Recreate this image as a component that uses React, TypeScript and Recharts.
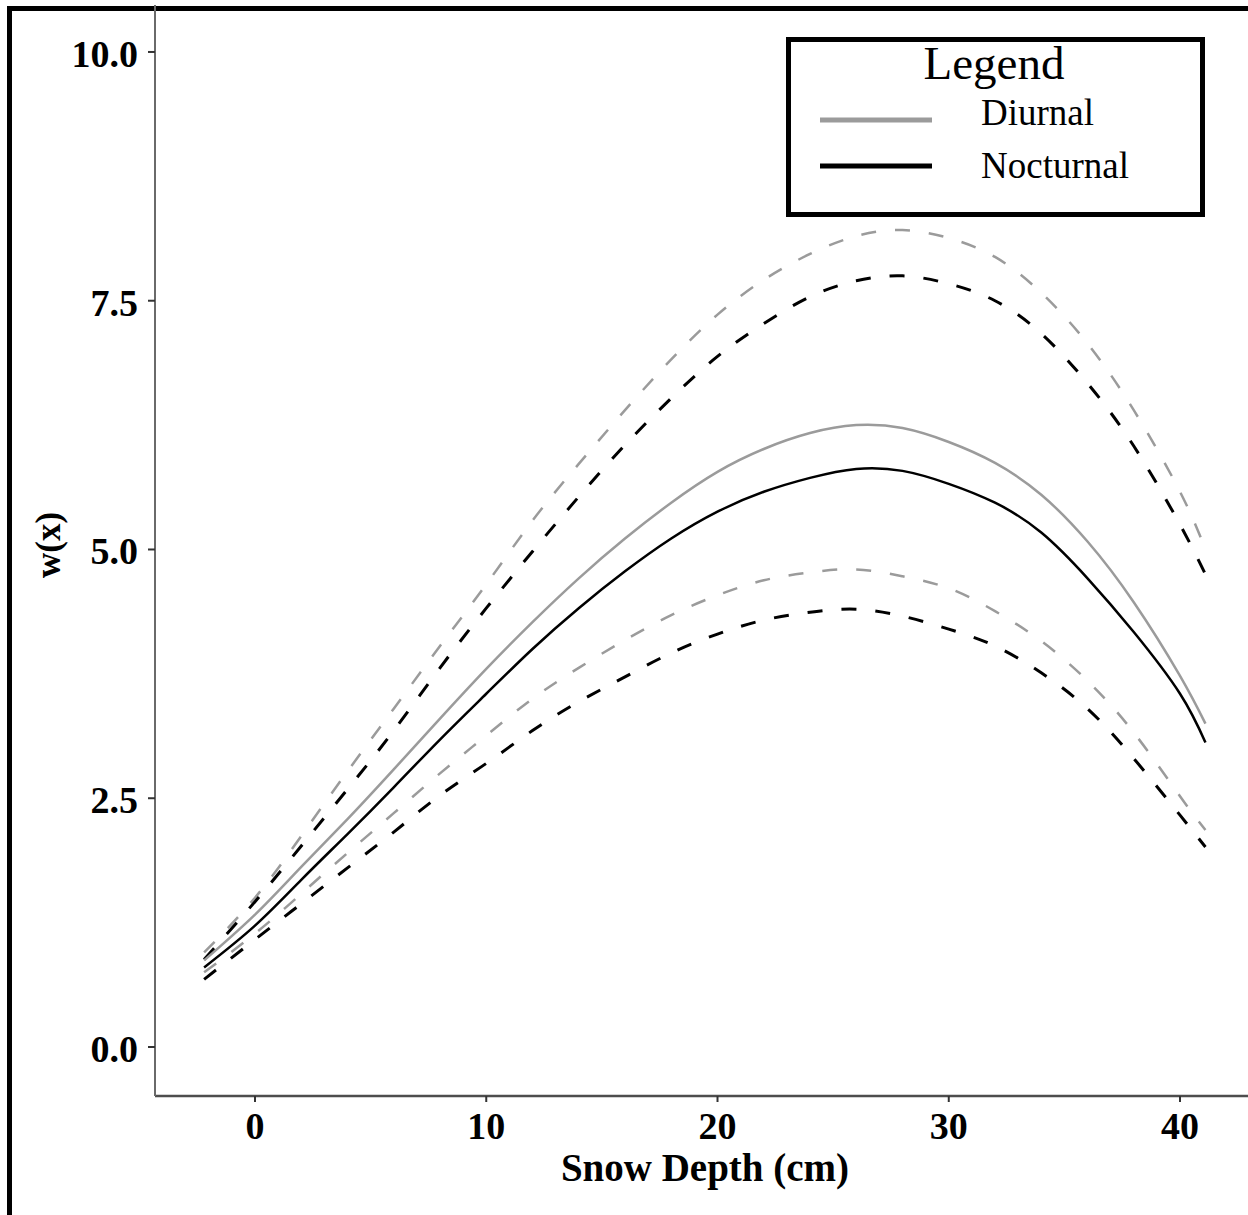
import React from "react";
import { LineChart, Line, XAxis, YAxis, Legend, Label } from "recharts";

// ---- data ----
const snowDepth = [-2.2, 0, 2, 4, 6, 8, 10, 12, 14, 16, 18, 20, 22, 24, 26, 28, 30, 32, 34, 36, 38, 40, 41.1];

const diurnalFit = [0.87, 1.33, 1.81, 2.29, 2.79, 3.3, 3.8, 4.27, 4.71, 5.11, 5.47, 5.78, 6.01, 6.17, 6.25, 6.22, 6.08, 5.87, 5.55, 5.08, 4.47, 3.73, 3.25];
const diurnalUpper = [0.95, 1.5, 2.12, 2.77, 3.4, 4.03, 4.65, 5.29, 5.86, 6.4, 6.91, 7.36, 7.71, 7.97, 8.15, 8.21, 8.13, 7.94, 7.58, 7.07, 6.4, 5.58, 5.0];
const diurnalLower = [0.75, 1.14, 1.54, 1.95, 2.35, 2.75, 3.13, 3.5, 3.81, 4.09, 4.34, 4.54, 4.69, 4.77, 4.8, 4.73, 4.61, 4.38, 4.08, 3.68, 3.16, 2.52, 2.18];

const nocturnalFit = [0.8, 1.22, 1.68, 2.14, 2.61, 3.09, 3.55, 4.0, 4.41, 4.78, 5.11, 5.38, 5.58, 5.72, 5.81, 5.79, 5.66, 5.47, 5.17, 4.71, 4.17, 3.55, 3.06];
const nocturnalUpper = [0.88, 1.46, 2.02, 2.59, 3.18, 3.81, 4.41, 4.98, 5.53, 6.05, 6.52, 6.94, 7.27, 7.54, 7.7, 7.75, 7.67, 7.5, 7.17, 6.67, 6.04, 5.25, 4.75];
const nocturnalLower = [0.68, 1.08, 1.44, 1.8, 2.16, 2.53, 2.85, 3.18, 3.47, 3.72, 3.96, 4.15, 4.29, 4.37, 4.4, 4.33, 4.2, 4.03, 3.76, 3.4, 2.9, 2.33, 2.01];

const xTicks = [0, 10, 20, 30, 40];
const yTicks = [0, 2.5, 5, 7.5, 10];
const legendTitle = "Legend";
const legendKeys = ["diurnal", "nocturnal"];
const seriesNames: Record<string, string> = { diurnal: "Diurnal", nocturnal: "Nocturnal" };

const data = snowDepth.map((x, i) => ({
  x,
  diurnal: diurnalFit[i],
  diurnalUpper: diurnalUpper[i],
  diurnalLower: diurnalLower[i],
  nocturnal: nocturnalFit[i],
  nocturnalUpper: nocturnalUpper[i],
  nocturnalLower: nocturnalLower[i],
}));

const FONT = '"Liberation Serif", "Times New Roman", serif';
const GRAY = "#9b9b9b";
const BLACK = "#000000";

const XTick = (props: any) => {
  const { x, y, payload } = props;
  return (
    <text x={x} y={y + 37} textAnchor="middle" fontFamily={FONT} fontWeight="bold" fontSize={38} fill="#000">
      {payload.value}
    </text>
  );
};

const YTick = (props: any) => {
  const { x, y, payload } = props;
  return (
    <text x={x - 10} y={y + 15} textAnchor="end" fontFamily={FONT} fontWeight="bold" fontSize={38} fill="#000">
      {Number(payload.value).toFixed(1)}
    </text>
  );
};

const LegendBox = (props: any) => {
  const payload = (props.payload || []).filter((p: any) => legendKeys.includes(p.dataKey));
  return (
    <svg width={419} height={180} style={{ display: "block" }}>
      <rect x={2.5} y={2.5} width={414} height={175} fill="#fff" stroke="#000" strokeWidth={5} />
      <text x={208} y={42} textAnchor="middle" fontFamily={FONT} fontSize={47} fill="#000">
        {legendTitle}
      </text>
      {payload.map((p: any, i: number) => (
        <g key={p.dataKey}>
          <line x1={34} x2={146} y1={83 + i * 46} y2={83 + i * 46} stroke={p.color} strokeWidth={5} />
          <text x={195} y={88 + i * 53} fontFamily={FONT} fontSize={37} fill="#000">
            {seriesNames[p.dataKey]}
          </text>
        </g>
      ))}
    </svg>
  );
};

export default function App() {
  return (
    <div style={{ position: "absolute", left: 0, top: 0, width: 1248, height: 1215, background: "#fff", overflow: "hidden" }}>
      <div
        style={{
          position: "absolute",
          left: 7,
          top: 6,
          width: 1260,
          height: 1230,
          borderLeft: "5px solid #000",
          borderTop: "5px solid #000",
          boxSizing: "border-box",
        }}
      />
      <div style={{ position: "absolute", left: 0, top: 0 }}>
        <LineChart width={1248} height={1215} data={data} margin={{ top: 5, right: 0, bottom: 89, left: 95 }}>
          <XAxis
            dataKey="x"
            type="number"
            domain={[-4.324, 42.94]}
            ticks={xTicks}
            allowDataOverflow
            height={30}
            axisLine={{ stroke: "#4d4d4d", strokeWidth: 2.5 }}
            tickLine={{ stroke: "#333", strokeWidth: 2 }}
            tickSize={6}
            tickMargin={0}
            tick={<XTick />}
          >
            <Label
              content={() => (
                <text x={705} y={1181} textAnchor="middle" fontFamily={FONT} fontWeight="bold" fontSize={39} fill="#000">
                  Snow Depth (cm)
                </text>
              )}
            />
          </XAxis>
          <YAxis
            type="number"
            domain={[-0.4925, 10.472]}
            ticks={yTicks}
            allowDataOverflow
            width={60}
            axisLine={{ stroke: "#6a6a6a", strokeWidth: 2 }}
            tickLine={{ stroke: "#333", strokeWidth: 2 }}
            tickSize={7}
            tickMargin={0}
            tick={<YTick />}
          >
            <Label
              content={() => (
                <text
                  x={60}
                  y={545}
                  transform="rotate(-90, 60, 545)"
                  textAnchor="middle"
                  fontFamily={FONT}
                  fontWeight="bold"
                  fontSize={35}
                  fill="#000"
                >
                  w(x)
                </text>
              )}
            />
          </YAxis>
          <Legend
            layout="horizontal"
            align="center"
            verticalAlign="middle"
            wrapperStyle={{ left: 786, top: 37, width: 419, height: 180 }}
            content={<LegendBox />}
          />
          <Line type="natural" dataKey="diurnalUpper" stroke={GRAY} strokeWidth={2.5} strokeDasharray="15 19" dot={false} isAnimationActive={false} />
          <Line type="natural" dataKey="diurnalLower" stroke={GRAY} strokeWidth={2.5} strokeDasharray="15 19" dot={false} isAnimationActive={false} />
          <Line type="natural" dataKey="nocturnalUpper" stroke={BLACK} strokeWidth={3} strokeDasharray="15 19" dot={false} isAnimationActive={false} />
          <Line type="natural" dataKey="nocturnalLower" stroke={BLACK} strokeWidth={3} strokeDasharray="15 19" dot={false} isAnimationActive={false} />
          <Line type="natural" dataKey="diurnal" stroke={GRAY} strokeWidth={2.5} dot={false} isAnimationActive={false} />
          <Line type="natural" dataKey="nocturnal" stroke={BLACK} strokeWidth={2.5} dot={false} isAnimationActive={false} />
        </LineChart>
      </div>
    </div>
  );
}
